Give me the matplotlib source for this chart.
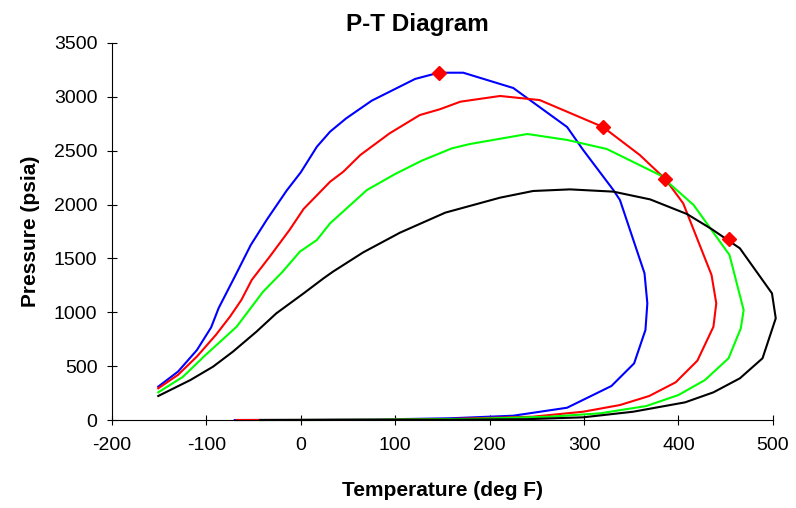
import matplotlib
matplotlib.use("Agg")
import matplotlib.pyplot as plt

plt.rcParams["font.family"] = ["Liberation Sans", "DejaVu Sans"]
plt.rcParams["axes.unicode_minus"] = False

# phase envelopes: upper (bubble) branch from low T, over the top, then dew branch back down
blue_T = [-151, -130, -110, -95, -87, -70, -53, -36, -15, 0, 17, 31, 48, 75, 121, 146, 172,
          225, 282, 299, 331, 338, 364, 367, 365, 353, 329, 282, 225, 158, 80, 0, -70]
blue_P = [310, 450, 650, 860, 1040, 1330, 1625, 1860, 2130, 2300, 2537, 2677, 2800, 2964, 3166, 3224, 3224,
          3082, 2720, 2507, 2135, 2042, 1362, 1083, 836, 526, 316, 114, 40, 16, 5, 1, 0]

red_T = [-151, -130, -110, -90, -75, -63, -52, -33, -12, 3, 31, 45, 63, 94, 126, 147, 169, 211, 253,
         320, 359, 386, 405, 435, 440, 437, 420, 397, 369, 338, 299, 246, 160, 80, 0, -68]
red_P = [294, 420, 590, 790, 960, 1114, 1300, 1516, 1764, 1960, 2212, 2305, 2460, 2661, 2831, 2884, 2955, 3008, 2970,
         2720, 2460, 2237, 2011, 1346, 1083, 866, 551, 350, 223, 139, 77, 31, 10, 3, 1, 0]

green_T = [-151, -125, -101, -85, -68, -40, -20, -1, 17, 31, 70, 100, 128, 160, 179, 240, 282, 324,
           380, 416, 454, 469, 466, 453, 428, 400, 366, 317, 264, 180, 80, 0, -43]
green_P = [257, 400, 603, 730, 866, 1191, 1370, 1563, 1671, 1826, 2135, 2284, 2407, 2522, 2562, 2655, 2600, 2516,
           2275, 1996, 1532, 1021, 851, 573, 371, 232, 130, 62, 31, 10, 3, 1, 0]

black_T = [-151, -117, -93, -72, -47, -26, 3, 24, 34, 66, 105, 153, 211, 246, 285, 331, 370, 409, 435,
           465, 499, 503, 489, 465, 437, 407, 352, 299, 240, 160, 80, 0, -43]
black_P = [223, 371, 495, 634, 820, 990, 1176, 1315, 1377, 1556, 1739, 1925, 2064, 2126, 2141, 2120, 2048, 1912, 1773,
           1594, 1176, 944, 573, 387, 257, 164, 77, 25, 8, 3, 1, 0, 0]

# critical points
crit_T = [146, 320, 386, 454]
crit_P = [3224, 2720, 2237, 1677]

fig = plt.figure(figsize=(7.96, 5.08), dpi=100)
ax = fig.add_axes([0.1407, 0.1732, 0.8303, 0.7422])

ax.plot(blue_T, blue_P, color="#0000FF", lw=1.5, clip_on=False)
ax.plot(red_T, red_P, color="#FF0000", lw=1.5, clip_on=False)
ax.plot(green_T, green_P, color="#00FF00", lw=1.5, clip_on=False)
ax.plot(black_T, black_P, color="black", lw=1.5, clip_on=False)
ax.plot(crit_T, crit_P, ls="none", marker="D", color="#FF0000", ms=7, zorder=5, clip_on=False)

ax.set_xlim(-200, 500)
ax.set_ylim(0, 3500)
ax.set_xticks(range(-200, 501, 100))
ax.set_yticks(range(0, 3501, 500))
for s in ["top", "right"]:
    ax.spines[s].set_visible(False)
ax.tick_params(direction="inout", length=7, width=0.8, labelsize=14)
ax.tick_params(axis="x", pad=9)
ax.tick_params(axis="y", pad=7)

fig.text(0.524, 0.951, "P-T Diagram", fontsize=17.5, fontweight="bold", ha="center", va="center")
ax.set_xlabel("Temperature (deg F)", fontsize=15, fontweight="bold", labelpad=19)
ax.set_ylabel("Pressure (psia)", fontsize=15, fontweight="bold", labelpad=10)

fig.savefig("out.png", dpi=100)
